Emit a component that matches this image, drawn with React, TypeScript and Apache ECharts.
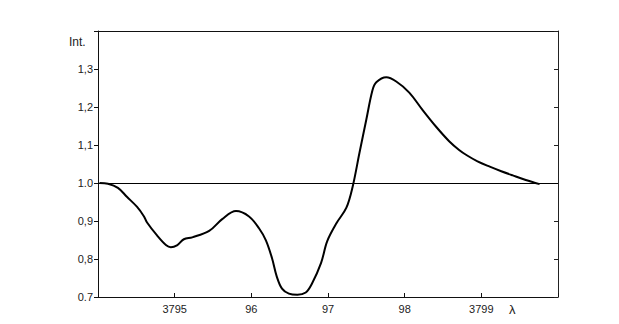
import React, { useEffect, useRef } from "react";
import * as echarts from "echarts";

const wavelengths = [
  3794.02, 3794.13, 3794.26, 3794.38, 3794.51, 3794.6, 3794.64, 3794.77, 3794.89, 3794.95,
  3795.03, 3795.12, 3795.23, 3795.45, 3795.62, 3795.8, 3795.97, 3796.1, 3796.19, 3796.27,
  3796.33, 3796.4, 3796.49, 3796.6, 3796.71, 3796.79, 3796.91, 3796.99, 3797.11, 3797.24,
  3797.32, 3797.41, 3797.5, 3797.58, 3797.63, 3797.76, 3797.89, 3798.06, 3798.23, 3798.41,
  3798.58, 3798.71, 3798.81, 3798.95, 3799.11, 3799.26, 3799.41, 3799.58, 3799.76,
];
const intensities = [
  1.0, 0.998, 0.987, 0.963, 0.937, 0.912, 0.896, 0.862, 0.836, 0.831,
  0.836, 0.852, 0.857, 0.874, 0.905, 0.926, 0.912, 0.881, 0.849, 0.802,
  0.755, 0.722, 0.709, 0.706, 0.712, 0.735, 0.79, 0.847, 0.894, 0.935,
  0.989, 1.079, 1.167, 1.244, 1.265, 1.278, 1.267, 1.238, 1.193, 1.148,
  1.11, 1.087, 1.073, 1.057, 1.043, 1.031, 1.02, 1.008, 0.997,
];
const xTickValues = [3795, 3796, 3797, 3798, 3799];
const xTickLabels = ["3795", "96", "97", "98", "3799"];
const yTickValues = [0.7, 0.8, 0.9, 1.0, 1.1, 1.2, 1.3];
const yTickLabels = ["0.7", "0,8", "0,9", "1.0", "1,1", "1,2", "1,3"];
const referenceLevel = 1.0;

export default function App() {
  const ref = useRef<HTMLDivElement>(null);
  useEffect(() => {
    if (!ref.current) return;
    const chart = echarts.init(ref.current, null, { renderer: "svg" });
    const font = "Liberation Sans";
    const xFmt = (v: number) => {
      const i = xTickValues.findIndex((t) => Math.abs(t - v) < 1e-6);
      return i >= 0 ? xTickLabels[i] : "";
    };
    const yFmt = (v: number) => {
      const i = yTickValues.findIndex((t) => Math.abs(t - v) < 1e-6);
      return i >= 0 ? yTickLabels[i] : "";
    };
    chart.setOption({
      animation: false,
      backgroundColor: "#ffffff",
      grid: { left: 98, right: 61, top: 31, bottom: 27, containLabel: false },
      xAxis: [
        {
          type: "value",
          min: 3794,
          max: 3800,
          interval: 1,
          axisLine: { show: true, onZero: false, lineStyle: { color: "#111", width: 1 } },
          axisTick: { show: true, inside: true, length: 4, lineStyle: { color: "#111" } },
          axisLabel: { formatter: xFmt, color: "#222", fontSize: 11, fontFamily: font, margin: 6 },
          splitLine: { show: false },
        },
        {
          type: "value",
          position: "top",
          min: 3794,
          max: 3800,
          interval: 1,
          axisLine: { show: true, onZero: false, lineStyle: { color: "#111", width: 1 } },
          axisTick: { show: false },
          axisLabel: { show: false },
          splitLine: { show: false },
        },
      ],
      yAxis: [
        {
          type: "value",
          min: 0.7,
          max: 1.4,
          interval: 0.1,
          axisLine: { show: true, onZero: false, lineStyle: { color: "#111", width: 1 } },
          axisTick: { show: true, inside: false, length: 4, lineStyle: { color: "#111" } },
          axisLabel: { formatter: yFmt, color: "#222", fontSize: 11, fontFamily: font, margin: 5 },
          splitLine: { show: false },
        },
        {
          type: "value",
          position: "right",
          min: 0.7,
          max: 1.4,
          interval: 0.1,
          axisLine: { show: true, onZero: false, lineStyle: { color: "#222", width: 1 } },
          axisTick: { show: true, inside: true, length: 4, lineStyle: { color: "#222" } },
          axisLabel: { show: false },
          splitLine: { show: false },
        },
      ],
      series: [
        {
          type: "line",
          data: wavelengths.map((w, i) => [w, intensities[i]]),
          smooth: 0.35,
          showSymbol: false,
          lineStyle: { color: "#000", width: 2 },
          markLine: {
            silent: true,
            symbol: "none",
            label: { show: false },
            lineStyle: { color: "#000", width: 1, type: "solid" },
            data: [{ yAxis: referenceLevel }],
          },
        },
      ],
      graphic: [
        {
          type: "text",
          left: 69,
          top: 36,
          style: { text: "Int.", fontSize: 12, fontFamily: font, fill: "#222" },
        },
        {
          type: "text",
          left: 509,
          top: 303,
          style: { text: "λ", fontSize: 13, fontFamily: font, fill: "#222" },
        },
      ],
    });
    return () => chart.dispose();
  }, []);
  return <div ref={ref} style={{ width: 619, height: 324, position: "absolute", left: 0, top: 0 }} />;
}
